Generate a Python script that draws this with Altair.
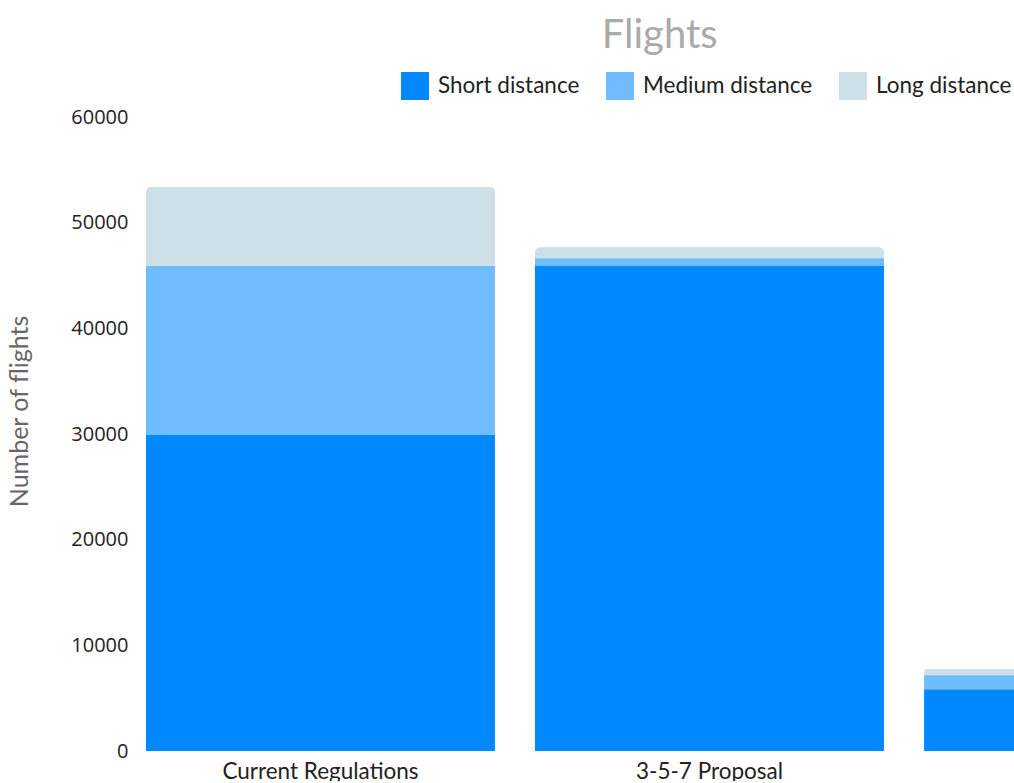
import altair as alt
import pandas as pd

categories = ["Current Regulations", "3-5-7 Proposal", "2-4-6 Proposal"]
short_vals = [29900, 45900, 5840]
medium_vals = [16000, 730, 1320]
long_vals = [7480, 1040, 600]
series = ["Short distance", "Medium distance", "Long distance"]
colors = ["#0088ff", "#6fbcff", "#cde0e8"]
y_ticks = [0, 10000, 20000, 30000, 40000, 50000, 60000]

# long-form table with stacked bottoms/tops built from the arrays above
rows = []
for i, cat in enumerate(categories):
    bottom = 0
    for name, vals in zip(series, [short_vals, medium_vals, long_vals]):
        rows.append({"category": cat, "series": name, "value": vals[i],
                     "bottom": bottom, "top": bottom + vals[i]})
        bottom += vals[i]
df = pd.DataFrame(rows)

color_scale = alt.Scale(domain=series, range=colors)
x_enc = alt.X("category:N", sort=categories,
              scale=alt.Scale(range=[0, 1147], paddingInner=0.103, paddingOuter=0.0257),
              axis=alt.Axis(title=None, domain=False, ticks=False, labelAngle=0,
                            labelFont="Lato", labelFontSize=22.5, labelColor="#222",
                            labelPadding=9, labelLimit=400))
y_scale = alt.Scale(domain=[0, 60000], nice=False)
y_axis = alt.Axis(values=y_ticks, format="d", grid=False, domain=False, ticks=False,
                  labelPadding=8, labelFont="Open Sans", labelFontSize=20, labelColor="#222",
                  title="Number of flights", titleFont="Lato", titleFontSize=25,
                  titleFontWeight="normal", titleColor="#666", titlePadding=38,
                  titleY=294)
legend = alt.Legend(orient="none", legendX=265, legendY=-45, direction="horizontal",
                    title=None, symbolType="square", symbolSize=784, symbolStrokeWidth=0,
                    labelFont="Lato", labelFontSize=22.5, labelColor="#222",
                    labelOffset=9, columnPadding=26, labelLimit=400)

enc = dict(
    x=x_enc,
    y=alt.Y("top:Q", scale=y_scale, axis=y_axis),
    y2="bottom:Q",
    color=alt.Color("series:N", scale=color_scale, legend=legend),
)

base = alt.Chart(df)
top_layer = base.transform_filter(alt.datum.series == "Long distance").mark_bar(
    cornerRadiusTopLeft=5, cornerRadiusTopRight=5, clip=True).encode(**enc)
rest_layer = base.transform_filter(alt.datum.series != "Long distance").mark_bar(
    clip=True).encode(**enc)

chart = alt.layer(top_layer, rest_layer).properties(
    width=878, height=634,
    title=alt.Title("Flights", fontSize=40, color="#aaa", font="Lato", fontWeight="normal",
                    anchor="start", dx=594, dy=-12),
    autosize=alt.AutoSizeParams(type="none"),
    padding={"left": 136, "top": 117, "right": 0, "bottom": 30},
).configure_view(stroke=None)

chart.save("out.html", embed_options={"renderer": "svg", "actions": False})
